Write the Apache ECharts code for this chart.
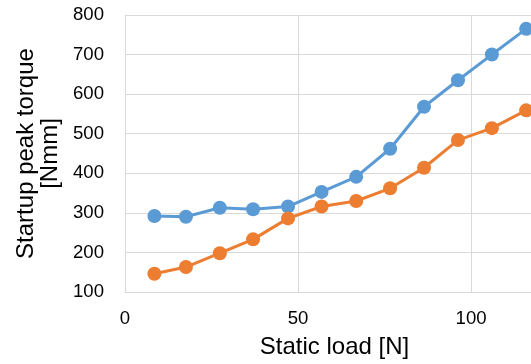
<!DOCTYPE html>
<html>
<head>
<meta charset="utf-8">
<script src="https://cdn.jsdelivr.net/npm/echarts@6/dist/echarts.min.js"></script>
<style>html,body{margin:0;padding:0;background:#fff}#c{width:531px;height:364px}</style>
</head>
<body>
<div id="c"></div>
<script>
var staticLoad = [8.5, 17.6, 27.4, 37.0, 47.1, 56.8, 66.8, 76.6, 86.4, 96.2, 106.0, 115.9];
var seriesBlue = [292, 290, 313, 309, 316, 353, 391, 462, 568, 635, 700, 765];
var seriesOrange = [146, 163, 198, 233, 286, 316, 330, 362, 414, 484, 514, 559];
var xTicks = [0, 50, 100];
var yTicks = [100, 200, 300, 400, 500, 600, 700, 800];

function pairs(xs, ys) { return xs.map(function (x, i) { return [x, ys[i]]; }); }

var chart = echarts.init(document.getElementById('c'), null, {renderer: 'canvas'});
var font = '"Liberation Sans", Arial, sans-serif';
chart.setOption({
  animation: false,
  backgroundColor: '#fff',
  grid: {left: 125, top: 15, right: 0, bottom: 70, containLabel: false},
  xAxis: {
    type: 'value', min: 0, max: 117.3, interval: 50,
    name: 'Static load [N]', nameLocation: 'middle', nameGap: 43,
    nameTextStyle: {fontFamily: font, fontSize: 24, color: '#000', padding: [0, 0, 0, 13]},
    axisLine: {show: true, lineStyle: {color: '#d9d9d9', width: 1}},
    axisTick: {show: false},
    axisLabel: {margin: 17, fontFamily: font, fontSize: 18.6, color: '#000',
      showMaxLabel: false,
      formatter: function (v) { return xTicks.indexOf(v) >= 0 ? String(v) : ''; }},
    splitLine: {show: true, lineStyle: {color: '#d9d9d9', width: 1}}
  },
  yAxis: {
    type: 'value', min: yTicks[0], max: yTicks[yTicks.length - 1], interval: 100,
    name: 'Startup peak torque\n[Nmm]', nameLocation: 'middle', nameGap: 63, nameRotate: 90,
    nameTextStyle: {fontFamily: font, fontSize: 24, color: '#000', lineHeight: 24, align: 'center'},
    axisLine: {show: true, lineStyle: {color: '#d9d9d9', width: 1}},
    axisTick: {show: false},
    axisLabel: {margin: 21, fontFamily: font, fontSize: 18.6, color: '#000'},
    splitLine: {show: true, lineStyle: {color: '#d9d9d9', width: 1}}
  },
  series: [
    {type: 'line', data: pairs(staticLoad, seriesBlue), symbol: 'circle', symbolSize: 14,
     clip: false,
     lineStyle: {color: '#5b9bd5', width: 3}, itemStyle: {color: '#5b9bd5'}},
    {type: 'line', data: pairs(staticLoad, seriesOrange), symbol: 'circle', symbolSize: 14,
     clip: false,
     lineStyle: {color: '#ed7d31', width: 3}, itemStyle: {color: '#ed7d31'}}
  ]
});
</script>
</body>
</html>
